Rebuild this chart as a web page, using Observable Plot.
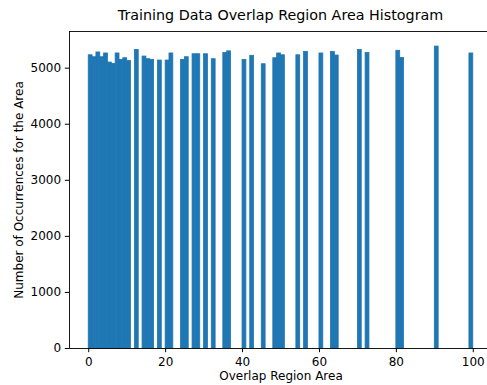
<!DOCTYPE html>
<html>
<head>
<meta charset="utf-8">
<script src="https://cdn.jsdelivr.net/npm/d3@7"></script>
<script src="https://cdn.jsdelivr.net/npm/@observablehq/plot@0.6"></script>
<style>
  html, body { margin: 0; padding: 0; background: #fff; }
  #wrap { width: 487px; height: 385px; overflow: hidden; position: relative; font-family: "DejaVu Sans", sans-serif; }
  #title { height: 24px; width: 423px; margin-left: 69px; text-align: center; font-size: 14.3px; line-height: 16px; padding-top: 7px; box-sizing: border-box; color: #000; white-space: nowrap; }
  #chart svg { display: block; max-width: none !important; }
</style>
</head>
<body>
<div id="wrap">
  <div id="title">Training Data Overlap Region Area Histogram</div>
  <div id="chart"></div>
</div>
<script>
const areas = [0,1,2,3,4,5,6,7,8,9,10,12,14,15,16,18,20,21,24,25,27,28,30,32,35,36,40,42,45,48,49,50,54,56,60,63,64,70,72,80,81,90,100];
const counts = [5230,5195,5280,5195,5262,5100,5076,5262,5148,5177,5130,5325,5207,5160,5148,5136,5136,5262,5148,5195,5248,5248,5248,5160,5270,5300,5148,5220,5070,5177,5262,5230,5230,5290,5262,5290,5225,5325,5270,5310,5183,5385,5262];
const xTicks = [0,20,40,60,80,100];
const yTicks = [0,1000,2000,3000,4000,5000];
const xLabel = "Overlap Region Area";
const yLabel = "Number of Occurrences for the Area";

// histogram with 100 unit-width bins over [0, 100]; the last bin is closed
const data = areas.map((a, i) => ({x1: Math.min(a, 99), x2: Math.min(a, 99) + 1, count: counts[i]}));

const chart = Plot.plot({
  width: 492,
  height: 361,
  marginLeft: 69,
  marginRight: 0,
  marginTop: 7,
  marginBottom: 37,
  style: {fontFamily: "DejaVu Sans, sans-serif", fontSize: "12px", color: "#000", background: "#fff", maxWidth: "none"},
  x: {domain: [-5, 105]},
  y: {domain: [0, 5654]},
  marks: [
    Plot.rectY(data, {x1: "x1", x2: "x2", y1: 0, y2: "count", fill: "#1f77b4", stroke: "#1f77b4", strokeWidth: 0.8, inset: 0, shapeRendering: "geometricPrecision"}),
    Plot.frame({stroke: "#000", strokeWidth: 0.9}),
    Plot.axisX({ticks: xTicks, tickSize: 4.2, tickPadding: 5, label: null, stroke: "#000", fill: "#000", fontSize: 12}),
    Plot.axisY({ticks: yTicks, tickSize: 4.2, tickPadding: 4.2, tickFormat: d => String(d), label: null, stroke: "#000", fill: "#000", fontSize: 12}),
    Plot.text([xLabel], {frameAnchor: "bottom", dy: 31, text: d => d, fontSize: 12, fill: "#000", textAnchor: "middle"}),
    Plot.text([yLabel], {frameAnchor: "left", dx: -50.8, rotate: -90, text: d => d, fontSize: 12, fill: "#000", textAnchor: "middle"})
  ]
});
document.getElementById("chart").appendChild(chart);
</script>
</body>
</html>
